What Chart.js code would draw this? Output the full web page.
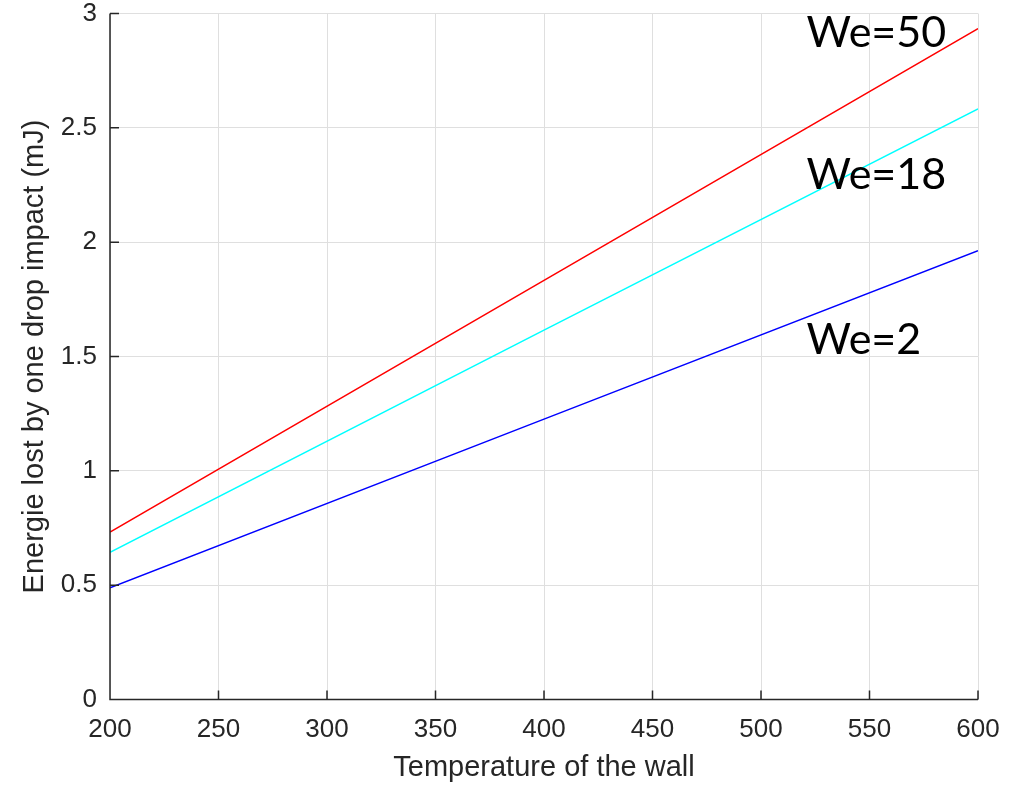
<!DOCTYPE html>
<html><head><meta charset="utf-8">
<script src="https://cdn.jsdelivr.net/npm/chart.js@4/dist/chart.umd.min.js"></script>
<style>html,body{margin:0;padding:0;background:#fff}#wrap{width:1030px;height:786px}</style>
</head><body><div id="wrap"><canvas id="c" width="1030" height="786"></canvas></div>
<script>
const temperature = [200, 400, 600];
const we50 = [0.732, 1.833, 2.934];
const we18 = [0.644, 1.615, 2.583];
const we2 = [0.489, 1.226, 1.963];
const xTicks = [200, 250, 300, 350, 400, 450, 500, 550, 600];
const yTicks = [0, 0.5, 1, 1.5, 2, 2.5, 3];
const labels = [
  {text: 'We=50', x: 521, y: 2.915},
  {text: 'We=18', x: 521, y: 2.295},
  {text: 'We=2', x: 521, y: 1.57}
];
const AX = '#262626';
const pts = a => temperature.map((t, i) => ({x: t, y: a[i]}));

const overlay = {
  id: 'overlay',
  afterDraw(chart) {
    const ctx = chart.ctx, xs = chart.scales.x, ys = chart.scales.y, a = chart.chartArea;
    ctx.save();
    ctx.strokeStyle = AX; ctx.lineWidth = 1.5;
    ctx.beginPath();
    ctx.moveTo(a.left, a.top); ctx.lineTo(a.left, a.bottom); ctx.lineTo(a.right, a.bottom);
    xTicks.forEach(v => { const p = xs.getPixelForValue(v); ctx.moveTo(p, a.bottom); ctx.lineTo(p, a.bottom - 9); });
    yTicks.forEach(v => { const p = ys.getPixelForValue(v); ctx.moveTo(a.left, p); ctx.lineTo(a.left + 9, p); });
    ctx.stroke();
    ctx.fillStyle = '#000'; ctx.font = '43px Lato'; ctx.textBaseline = 'middle'; ctx.textAlign = 'left';
    labels.forEach(l => ctx.fillText(l.text, xs.getPixelForValue(l.x), ys.getPixelForValue(l.y)));
    ctx.restore();
  }
};

new Chart(document.getElementById('c'), {
  type: 'line',
  data: { datasets: [
    {data: pts(we50), borderColor: '#ff0000', borderWidth: 1.5, pointRadius: 0},
    {data: pts(we18), borderColor: '#00ffff', borderWidth: 1.5, pointRadius: 0},
    {data: pts(we2), borderColor: '#0000ff', borderWidth: 1.5, pointRadius: 0}
  ]},
  options: {
    responsive: false, animation: false, events: [],
    layout: {padding: {left: 0, right: 52, top: 13.5, bottom: 0}},
    plugins: {legend: {display: false}, tooltip: {enabled: false}},
    scales: {
      x: {
        type: 'linear', min: 200, max: 600,
        afterBuildTicks: s => { s.ticks = xTicks.map(v => ({value: v})); },
        afterFit: s => { s.height = 86.5; s.paddingLeft = 0; s.paddingRight = 0; },
        grid: {color: '#dfdfdf', lineWidth: 1, drawTicks: false},
        border: {display: false},
        ticks: {color: AX, font: {family: 'Liberation Sans', size: 26}, padding: 15, maxRotation: 0, callback: v => String(v)},
        title: {display: true, text: 'Temperature of the wall', color: AX, font: {family: 'Liberation Sans', size: 29}, padding: {top: 0, bottom: 1}}
      },
      y: {
        min: 0, max: 3,
        afterBuildTicks: s => { s.ticks = yTicks.map(v => ({value: v})); },
        afterFit: s => { s.width = 110; s.paddingTop = 0; s.paddingBottom = 0; },
        grid: {color: '#dfdfdf', lineWidth: 1, drawTicks: false},
        border: {display: false},
        ticks: {color: AX, font: {family: 'Liberation Sans', size: 26}, padding: 13, callback: v => String(v)},
        title: {display: true, text: 'Energie lost by one drop impact (mJ)', color: AX, font: {family: 'Liberation Sans', size: 29}, padding: {top: 18, bottom: 0}}
      }
    }
  },
  plugins: [overlay]
});
</script></body></html>
